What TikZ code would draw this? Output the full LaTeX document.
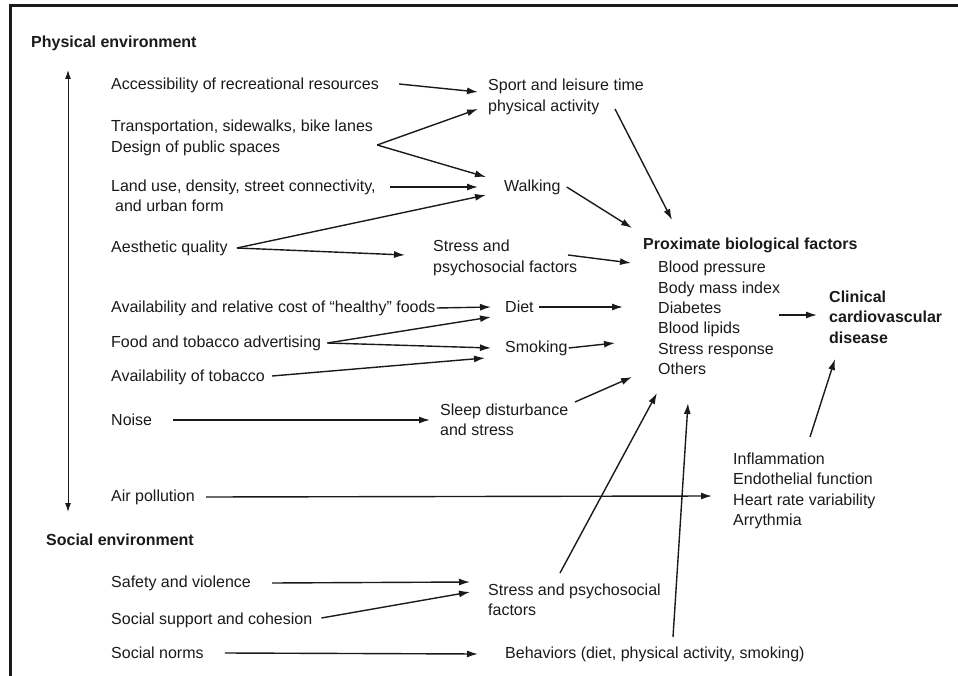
\documentclass[tikz,border=0pt]{standalone}
\usepackage{fontspec}
\setmainfont{Liberation Sans}
\usetikzlibrary{arrows.meta,positioning}
\definecolor{ink}{HTML}{1A1A1A}

\begin{document}
\begin{tikzpicture}[x=1pt,y=-1pt,
    every node/.style={font=\fontsize{16}{20.4}\selectfont,color=ink,inner sep=1pt,anchor=west},
    lbl/.style={align=left},
    head/.style={font=\fontsize{16}{20.4}\selectfont\bfseries,align=left},
    arr/.style={draw=ink,line width=1.4pt,-{Latex[length=11pt,width=7pt]}}]
  \useasboundingbox (0,0) rectangle (958,676);
  \draw[ink,line width=3pt] (10,680) -- (10,6) -- (962,6);

  % left column: environment
  \node[head] (phys) at (30,43) {Physical environment};
  \node[head] (soc) at (45,540) {Social environment};
  \node (acc) at (110,85) {Accessibility of recreational resources};
  \node[lbl] (trans) at (110,138) {Transportation, sidewalks, bike lanes\\Design of public spaces};
  \node[lbl] (land) at (110,196) {Land use, density, street connectivity,\\\hspace*{4pt}and urban form};
  \node (aes) at (110,248) {Aesthetic quality};
  \node (healthy) at (110,308) {Availability and relative cost of “healthy” foods};
  \node (adv) at (110,343) {Food and tobacco advertising};
  \node (tob) at (110,377) {Availability of tobacco};
  \node (noise) at (110,420) {Noise};
  \node (air) at (110,497) {Air pollution};
  \node (safety) at (110,583) {Safety and violence};
  \node (support) at (110,620) {Social support and cohesion};
  \node (norms) at (110,653) {Social norms};

  % middle column: pathways
  \node[lbl] (sport) at (487,97) {Sport and leisure time\\physical activity};
  \node (walk) at (503,187) {Walking};
  \node[lbl] (stressA) at (432,258) {Stress and\\psychosocial factors};
  \node (diet) at (504,307) {Diet};
  \node (smoke) at (504,348) {Smoking};
  \node[lbl] (sleep) at (439,420) {Sleep disturbance\\and stress};
  \node[lbl] (stressB) at (487,600) {Stress and psychosocial\\factors};
  \node (behav) at (504,654) {Behaviors (diet, physical activity, smoking)};

  % right column: outcomes
  \node[head] (prox) at (642,245) {Proximate biological factors};
  \node[lbl] (bio) at (657,318) {Blood pressure\\Body mass index\\Diabetes\\Blood lipids\\Stress response\\Others};
  \node[head] (clin) at (828,317) {Clinical\\cardiovascular\\disease};
  \node[lbl] (infl) at (732,491) {Inflammation\\Endothelial function\\Heart rate variability\\Arrythmia};

  % arrow ends
  \foreach \n/\a/\b in {sportA/478/92, sportB/478/109, walkA/486/177, walkB/478/187, walkC/486/195,
      stressIn/405/255, dietA/491/307, dietB/491/317, smokeA/491/348, smokeB/485/358,
      sleepIn/430/420, inflIn/712/496, stressBA/470/582, stressBB/470/592, behavIn/478/654,
      proxA/672/220, proxB/632/228, proxC/631/263, proxD/623/307, proxE/615/343,
      proxF/632/377, proxG/657/393, proxH/688/403, clinA/817/315, clinB/835/359,
      envTop/68/70, envBot/68/512, sportOut/615/109, landOut/390/187}
    \coordinate (\n) at (\a,\b);

  \draw[ink,line width=1pt,{Latex[length=9pt,width=6pt]}-{Latex[length=9pt,width=6pt]}] (envTop) -- (envBot);

  \draw[arr] ([xshift=19pt,yshift=1pt]acc.east) -- (sportA);
  \draw[arr] ([xshift=3pt,yshift=-7pt]trans.east) -- (sportB);
  \draw[arr] ([xshift=3pt,yshift=-7pt]trans.east) -- (walkA);
  \draw[arr] (landOut) -- (walkB);
  \draw[arr] ([xshift=8pt]aes.east) -- (walkC);
  \draw[arr] ([xshift=8pt]aes.east) -- (stressIn);
  \draw[arr] (healthy.east) -- (dietA);
  \draw[arr] ([xshift=5pt]adv.east) -- (dietB);
  \draw[arr] ([xshift=5pt]adv.east) -- (smokeA);
  \draw[arr] ([xshift=6pt,yshift=1pt]tob.east) -- (smokeB);
  \draw[arr] ([xshift=20pt]noise.east) -- (sleepIn);
  \draw[arr] ([xshift=10pt]air.east) -- (inflIn);
  \draw[arr] ([xshift=20pt]safety.east) -- (stressBA);
  \draw[arr] ([xshift=8pt,yshift=2pt]support.east) -- (stressBB);
  \draw[arr] ([xshift=20pt]norms.east) -- (behavIn);

  \draw[arr] (sportOut) -- (proxA);
  \draw[arr] ([xshift=5pt]walk.east) -- (proxB);
  \draw[arr] ([xshift=136pt,yshift=3pt]stressA.west) -- (proxC);
  \draw[arr] ([xshift=4pt]diet.east) -- (proxD);
  \draw[arr] (smoke.east) -- (proxE);
  \draw[arr] ([xshift=136pt,yshift=18pt]sleep.west) -- (proxF);
  \draw[arr] ([xshift=73pt,yshift=27pt]stressB.west) -- (proxG);
  \draw[arr] ([xshift=169pt,yshift=17pt]behav.west) -- (proxH);
  \draw[arr] ([xshift=-2pt,yshift=3pt]bio.east) -- (clinA);
  \draw[arr] ([xshift=78pt,yshift=54pt]infl.west) -- (clinB);
\end{tikzpicture}
\end{document}
